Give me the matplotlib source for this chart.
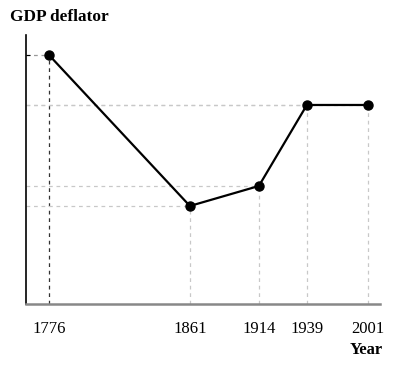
import matplotlib.pyplot as plt

# GDP deflator path (relative level, no units shown)
years = ["1776", "1861", "1914", "1939", "2001"]
year_pos = [23, 164, 233, 281, 342]  # uneven spacing as in the original
deflator = [249, 98, 118, 199, 199]

plt.rcParams['font.family'] = ['Liberation Serif', 'DejaVu Serif']

fig = plt.figure(figsize=(3.99, 3.67), dpi=100)
ax = fig.add_axes([0.065, 0.1717, 0.887, 0.733])

ax.set_xlim(0, 354)
ax.set_ylim(0, 269)

# dashed guide lines from each point to the axes
for i, (x, y) in enumerate(zip(year_pos, deflator)):
    col = '#333333' if i == 0 else '#c8c8c8'
    ax.plot([x, x], [0, y], ls=(0, (3, 3)), color=col, lw=0.9, zorder=1)
    ax.plot([0, x], [y, y], ls=(0, (3, 3)),
            color='#999999' if i == 0 else '#c8c8c8', lw=0.9, zorder=1)

ax.plot(year_pos, deflator, color='black', lw=1.6, marker='o',
        markersize=6.5, zorder=3)

for s in ['top', 'right']:
    ax.spines[s].set_visible(False)
ax.spines['left'].set_color('black')
ax.spines['left'].set_linewidth(1.2)
ax.spines['bottom'].set_color('#888888')
ax.spines['bottom'].set_linewidth(1.8)

ax.set_xticks(year_pos)
ax.set_xticklabels(years, fontsize=12)
ax.tick_params(axis='x', length=0, pad=12)
ax.set_yticks([deflator[0]])
ax.set_yticklabels([])
ax.tick_params(axis='y', direction='in', length=3, width=0.8)

fig.text(0.025, 0.955, "GDP deflator", fontsize=12.4, fontweight='bold',
         ha='left', va='center')
fig.text(0.96, 0.047, "Year", fontsize=12, fontweight='bold',
         ha='right', va='center')

fig.savefig("out.png", dpi=100)
